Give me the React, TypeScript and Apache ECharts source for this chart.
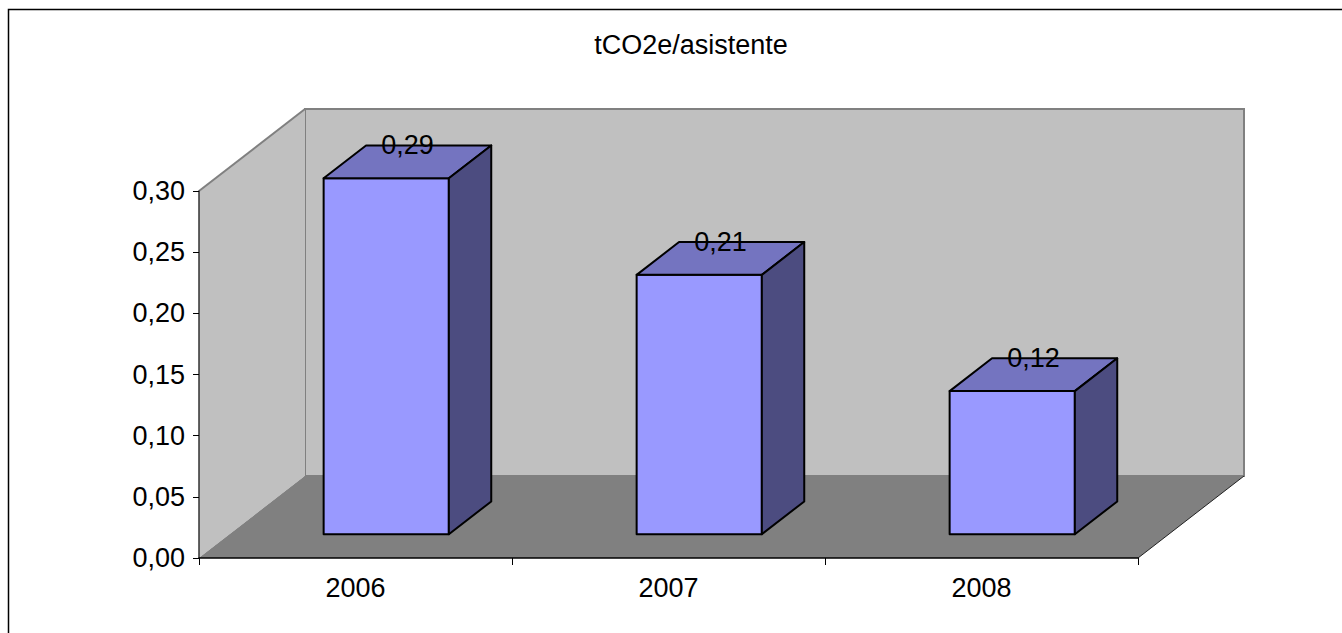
import React, { useEffect, useRef } from "react";
import * as echarts from "echarts";

const categories = ["2006", "2007", "2008"];
const values = [0.291, 0.212, 0.117];
const yMin = 0;
const yMax = 0.3;
const yInterval = 0.05;
const titleText = "tCO2e/asistente";

const FONT = "'Liberation Sans', Arial, sans-serif";
const DX = 106;
const DY = -82;
const F0 = 0.29;
const F1 = 0.69;

const fmt = (v: number) => v.toFixed(2).replace(".", ",");

export default function App() {
  const ref = useRef<HTMLDivElement>(null);
  useEffect(() => {
    if (!ref.current) return;
    const chart = echarts.init(ref.current, undefined, { renderer: "svg" });
    const option: any = {
      animation: false,
      backgroundColor: "#ffffff",
      title: {
        text: titleText,
        left: 686,
        textAlign: "center",
        top: 26,
        textStyle: { fontFamily: FONT, fontSize: 27, fontWeight: "normal", color: "#000" },
      },
      graphic: [
        {
          type: "rect",
          shape: { x: 8.5, y: 9.5, width: 1500, height: 800 },
          style: { fill: "none", stroke: "#000", lineWidth: 1.5 },
          z: 100,
          silent: true,
        },
      ],
      grid: { left: 199, top: 191, width: 939, height: 367, containLabel: false },
      xAxis: {
        type: "category",
        data: categories,
        z: 10,
        axisLine: { show: true, lineStyle: { color: "#000", width: 1.5 } },
        axisTick: { show: true, length: 7, lineStyle: { color: "#000", width: 1 } },
        axisLabel: { margin: 16, fontFamily: FONT, fontSize: 27, color: "#000" },
        splitLine: { show: false },
      },
      yAxis: {
        type: "value",
        min: yMin,
        max: yMax,
        interval: yInterval,
        z: 10,
        axisLine: { show: true, lineStyle: { color: "#333", width: 1.5 } },
        axisTick: { show: true, length: 6, lineStyle: { color: "#000", width: 1 } },
        axisLabel: {
          margin: 14,
          fontFamily: FONT,
          fontSize: 27,
          color: "#000",
          formatter: (v: number) => fmt(v),
        },
        splitLine: { show: false },
      },
      series: [
        {
          type: "custom",
          z: 1,
          silent: true,
          data: [[0, 0]],
          renderItem: (params: any) => {
            const cs = params.coordSys;
            const L = cs.x, T = cs.y, R = cs.x + cs.width, B = cs.y + cs.height;
            return {
              type: "group",
              children: [
                {
                  type: "polygon",
                  shape: { points: [[L, B], [L + DX, B + DY], [R + DX, B + DY], [R, B]] },
                  style: { fill: "#808080", stroke: null },
                },
                {
                  type: "rect",
                  shape: { x: L + DX, y: T + DY, width: cs.width, height: cs.height },
                  style: { fill: "#C0C0C0", stroke: "#808080", lineWidth: 2 },
                },
                {
                  type: "polygon",
                  shape: { points: [[L, T], [L + DX, T + DY], [L + DX, B + DY], [L, B]] },
                  style: { fill: "#C0C0C0", stroke: null },
                },
                {
                  type: "line",
                  shape: { x1: L, y1: T, x2: L + DX, y2: T + DY },
                  style: { stroke: "#808080", lineWidth: 2 },
                },
                {
                  type: "polygon",
                  shape: { points: [[L, B], [L + DX, B + DY], [L + DX, B + DY + 2], [L + 2, B]] },
                  style: { fill: "#808080", stroke: null },
                },
                {
                  type: "line",
                  shape: { x1: R, y1: B, x2: R + DX, y2: B + DY },
                  style: { stroke: "#222", lineWidth: 1 },
                },
              ],
            };
          },
        },
        {
          type: "custom",
          z: 3,
          silent: true,
          data: values.map((v, i) => [i, v]),
          encode: { x: 0, y: 1 },
          renderItem: (params: any, api: any) => {
            const i = api.value(0);
            const v = api.value(1);
            const top = api.coord([i, v]);
            const base = api.coord([i, 0]);
            const band = api.size([1, 0])[0];
            const w = band * 0.4;
            const x0 = top[0] - w / 2 + F0 * DX;
            const yT = top[1] + F0 * DY;
            const yB = base[1] + F0 * DY;
            const bdx = (F1 - F0) * DX;
            const bdy = (F1 - F0) * DY;
            const edge = { stroke: "#000", lineWidth: 2, lineJoin: "round" };
            return {
              type: "group",
              children: [
                {
                  type: "polygon",
                  shape: { points: [[x0, yT], [x0 + w, yT], [x0 + w, yB], [x0, yB]] },
                  style: { fill: "#9999FF", ...edge },
                },
                {
                  type: "polygon",
                  shape: {
                    points: [[x0, yT], [x0 + bdx, yT + bdy], [x0 + w + bdx, yT + bdy], [x0 + w, yT]],
                  },
                  style: { fill: "#7474C0", ...edge },
                },
                {
                  type: "polygon",
                  shape: {
                    points: [[x0 + w, yT], [x0 + w + bdx, yT + bdy], [x0 + w + bdx, yB + bdy], [x0 + w, yB]],
                  },
                  style: { fill: "#4C4C80", ...edge },
                },
                {
                  type: "text",
                  style: {
                    text: fmt(v),
                    x: x0 + w / 2 + bdx / 2,
                    y: yT + bdy,
                    textAlign: "center",
                    textVerticalAlign: "middle",
                    fontFamily: FONT,
                    fontSize: 27,
                    fill: "#000",
                  },
                },
              ],
            };
          },
        },
      ],
    };
    chart.setOption(option);
    return () => chart.dispose();
  }, []);
  return (
    <div
      ref={ref}
      style={{ position: "absolute", left: 0, top: 0, width: 1342, height: 633 }}
    />
  );
}
